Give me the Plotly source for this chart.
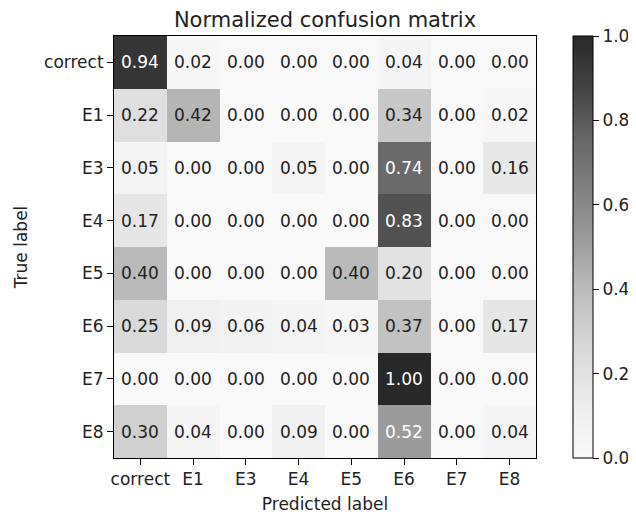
import plotly.graph_objects as go

labels = ["correct", "E1", "E3", "E4", "E5", "E6", "E7", "E8"]
matrix = [
    [0.94, 0.02, 0.00, 0.00, 0.00, 0.04, 0.00, 0.00],
    [0.22, 0.42, 0.00, 0.00, 0.00, 0.34, 0.00, 0.02],
    [0.05, 0.00, 0.00, 0.05, 0.00, 0.74, 0.00, 0.16],
    [0.17, 0.00, 0.00, 0.00, 0.00, 0.83, 0.00, 0.00],
    [0.40, 0.00, 0.00, 0.00, 0.40, 0.20, 0.00, 0.00],
    [0.25, 0.09, 0.06, 0.04, 0.03, 0.37, 0.00, 0.17],
    [0.00, 0.00, 0.00, 0.00, 0.00, 1.00, 0.00, 0.00],
    [0.30, 0.04, 0.00, 0.09, 0.00, 0.52, 0.00, 0.04],
]
cbar_ticks = [0.0, 0.2, 0.4, 0.6, 0.8, 1.0]

FONT = "DejaVu Sans"
FS = 17
# page has an 8px body margin; figure is sized/placed to compensate
W, H = 628, 506
L, R, T, B = 106, 100, 28, 56

greys = [
    [0.0, "rgb(249,249,249)"], [0.125, "rgb(237,237,237)"], [0.25, "rgb(218,218,218)"],
    [0.375, "rgb(193,193,193)"], [0.5, "rgb(160,160,160)"], [0.625, "rgb(131,131,131)"],
    [0.75, "rgb(104,104,104)"], [0.875, "rgb(68,68,68)"], [1.0, "rgb(40,40,40)"],
]

fig = go.Figure(go.Heatmap(
    z=matrix, x=labels, y=labels, colorscale=greys, zmin=0, zmax=1,
    xgap=0, ygap=0, hoverinfo="skip",
    colorbar=dict(
        x=(565 - L) / (W - L - R), xanchor="left", xref="paper",
        y=0, yanchor="bottom", len=1, lenmode="fraction",
        thickness=20, thicknessmode="pixels", ypad=0, xpad=0,
        outlinewidth=1, outlinecolor="black",
        tickvals=cbar_ticks, ticktext=[f"{v:.1f}" for v in cbar_ticks],
        ticks="outside", ticklen=6, tickcolor="black",
        tickfont=dict(family=FONT, size=FS, color="#222"),
    ),
))

thresh = max(max(r) for r in matrix) / 2
for i, row in enumerate(matrix):
    for j, v in enumerate(row):
        fig.add_annotation(
            x=labels[j], y=labels[i], text=f"{v:.2f}", showarrow=False,
            font=dict(family=FONT, size=FS, color="white" if v > thresh else "#222"),
        )

fig.update_layout(
    width=W, height=H, margin=dict(l=L, r=R, t=T, b=B, autoexpand=False),
    paper_bgcolor="white", plot_bgcolor="white",
    font=dict(family=FONT, color="#222"),
    title=dict(text="Normalized confusion matrix", x=(L + (W - L - R) / 2) / W, xanchor="center",
               y=1 - 12 / H, yanchor="middle", yref="container",
               font=dict(family=FONT, size=21, color="#222")),
    xaxis=dict(
        type="category", showline=True, linecolor="black", linewidth=1, mirror=True,
        ticks="outside", ticklen=6, tickcolor="black", showgrid=False, zeroline=False,
        tickfont=dict(family=FONT, size=FS, color="#222"),
        title=dict(text="Predicted label", font=dict(family=FONT, size=FS, color="#222"), standoff=9),
        automargin=False,
    ),
    yaxis=dict(
        type="category", autorange="reversed", showline=True, linecolor="black", linewidth=1, mirror=True,
        ticks="outside", ticklen=6, tickcolor="black", showgrid=False, zeroline=False,
        tickfont=dict(family=FONT, size=FS, color="#222"),
        title=dict(text="True label", font=dict(family=FONT, size=FS, color="#222"), standoff=12),
        automargin=False,
    ),
)

fig.write_html("out.html")
